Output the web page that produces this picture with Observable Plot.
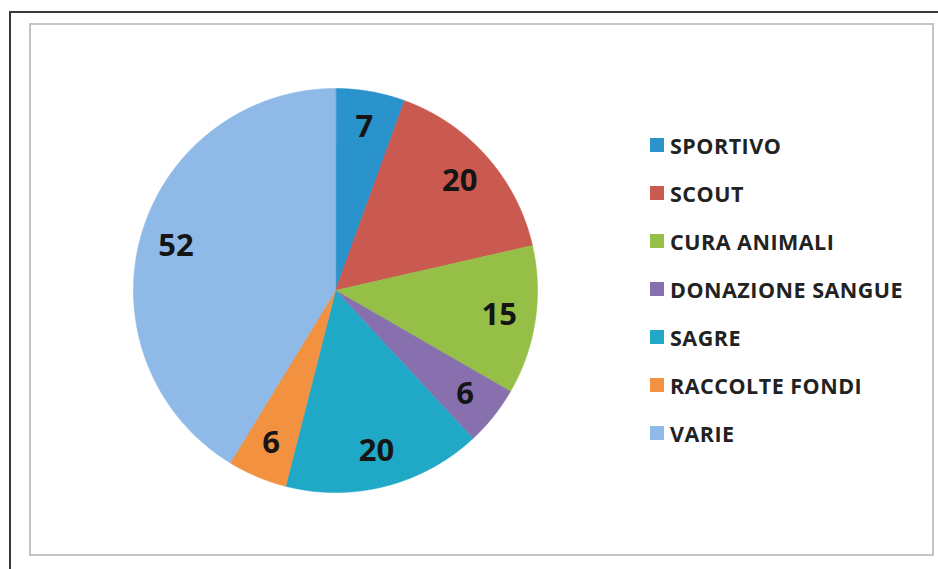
<!DOCTYPE html>
<html>
<head>
<meta charset="utf-8">
<script src="https://cdn.jsdelivr.net/npm/d3@7"></script>
<script src="https://cdn.jsdelivr.net/npm/@observablehq/plot@0.6"></script>
<style>
  html, body { margin: 0; padding: 0; background: #fff; }
  #wrap { position: relative; width: 938px; height: 569px; overflow: hidden; background: #fff; }
  #outer { position: absolute; left: 9px; top: 11px; width: 960px; height: 600px; border: 2px solid #3a3a3a; box-sizing: border-box; }
  #inner { position: absolute; left: 29px; top: 23px; width: 905px; height: 533px; border: 2px solid #c4c4c4; box-sizing: border-box; }
  #chart { position: absolute; left: 0; top: 0; }
  .leg { position: absolute; left: 650px; display: flex; align-items: center; height: 30px;
         font-family: "Open Sans", Lato, sans-serif; font-weight: bold; font-size: 21.5px; color: #222; white-space: nowrap; letter-spacing: 0.5px; }
  .sw { width: 14px; height: 14px; margin-right: 6px; }
</style>
</head>
<body>
<div id="wrap">
  <div id="outer"></div>
  <div id="inner"></div>
  <div id="chart"></div>
</div>
<script>
const categories = ["SPORTIVO", "SCOUT", "CURA ANIMALI", "DONAZIONE SANGUE", "SAGRE", "RACCOLTE FONDI", "VARIE"];
const values = [7, 20, 15, 6, 20, 6, 52];
const colors = ["#2a93cc", "#ca5950", "#96bf48", "#8870ae", "#20a9c6", "#f2913f", "#8fb9e6"];

const data = categories.map((c, i) => ({cat: c, value: values[i]}));
const arcs = d3.pie().sort(null).value(d => d.value).startAngle(0).endAngle(2 * Math.PI)(data);

// slice outlines in unit coordinates (angle clockwise from 12 o'clock)
const pts = [];
for (const a of arcs) {
  const c = a.data.cat;
  pts.push({cat: c, u: 0, v: 0});
  const n = Math.max(2, Math.ceil((a.endAngle - a.startAngle) / 0.005));
  for (let k = 0; k <= n; k++) {
    const t = a.startAngle + (a.endAngle - a.startAngle) * k / n;
    pts.push({cat: c, u: Math.sin(t), v: Math.cos(t)});
  }
}
const labelR = 0.82;
const labels = arcs.map(a => {
  const m = (a.startAngle + a.endAngle) / 2;
  return {cat: a.data.cat, value: a.data.value, u: labelR * Math.sin(m), v: labelR * Math.cos(m)};
});

const W = 938, H = 569, cx = 335, cy = 290, R = 202;
const chart = Plot.plot({
  width: W, height: H,
  margin: 0,
  x: {domain: [(0 - cx) / R, (W - cx) / R], range: [0, W], axis: null},
  y: {domain: [(cy - H) / R, cy / R], range: [H, 0], axis: null},
  color: {domain: categories, range: colors},
  style: {background: "transparent"},
  marks: [
    Plot.line(pts, {x: "u", y: "v", z: "cat", fill: "cat", stroke: "cat", strokeWidth: 0.6, curve: "linear-closed"}),
    Plot.text(labels, {x: "u", y: "v", text: d => String(d.value), fontSize: 31, fontWeight: "bold",
      fontFamily: "'Open Sans', Lato, sans-serif", fill: "#151515"})
  ]
});
document.getElementById("chart").appendChild(chart);

const wrap = document.getElementById("wrap");
categories.forEach((c, i) => {
  const row = document.createElement("div");
  row.className = "leg";
  row.style.top = (145 + i * 48 - 15) + "px";
  const sw = document.createElement("div");
  sw.className = "sw";
  sw.style.background = colors[i];
  const tx = document.createElement("span");
  tx.textContent = c;
  row.appendChild(sw);
  row.appendChild(tx);
  wrap.appendChild(row);
});
</script>
</body>
</html>
